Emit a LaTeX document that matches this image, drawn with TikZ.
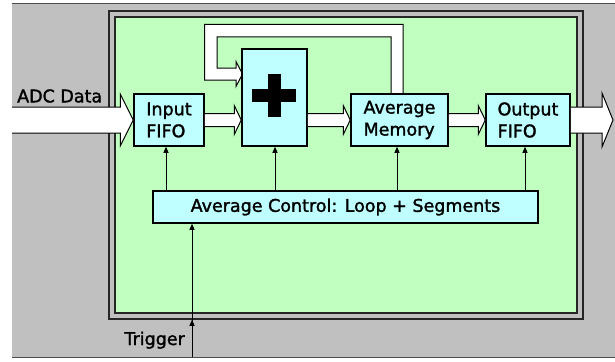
\documentclass[tikz,border=0pt]{standalone}
\usepackage{fontspec}
\setmainfont{DejaVu Sans}[BoldFont=DejaVu Sans, BoldFeatures={FakeBold=1.6}]
\usetikzlibrary{arrows.meta,calc}

\definecolor{bggray}{RGB}{192,192,192}
\definecolor{fpgagreen}{RGB}{192,255,192}
\definecolor{boxcyan}{RGB}{192,255,255}

\tikzset{
  block/.style={draw=black, line width=1.5pt, fill=boxcyan, inner sep=0pt, align=left,
    font=\fontsize{17.5}{22}\selectfont\bfseries},
  fatarrow/.style={draw=black, line width=1pt, fill=white, line join=miter},
  ctrlarrow/.style={line width=1pt, -{Triangle[length=6pt,width=5pt]}},
  lbl/.style={inner sep=0pt, font=\fontsize{17.5}{22}\selectfont\bfseries}
}

% horizontal block arrow: from, to, body half height, head half height, head length
\newcommand{\blockarrow}[5]{%
  \draw[fatarrow] let \p1=(#1), \p2=(#2) in
    (\x1,\y1+#3pt) -- (\x2-#5pt,\y1+#3pt) -- (\x2-#5pt,\y1+#4pt) -- (\x2,\y1)
    -- (\x2-#5pt,\y1-#4pt) -- (\x2-#5pt,\y1-#3pt) -- (\x1,\y1-#3pt);}

\begin{document}
\begin{tikzpicture}[x=1pt, y=-1pt]

\useasboundingbox (0,0) rectangle (615,361);

% background
\fill[bggray] (12,4) rectangle (615,357);
\draw[line width=1pt, black!70] (12,4) -- (615,4);
\draw[line width=1pt, black!70] (12,357) -- (615,357);

% fpga frame
\node[draw=black!85, line width=1.5pt, fill=bggray, minimum width=474pt, minimum height=308pt] (frame) at (346,165) {};
\node[draw=black!85, line width=1.5pt, fill=fpgagreen, minimum width=462pt, minimum height=296pt] (core) at (346,165) {};

% feedback loop
\draw[fatarrow] (391,94) -- (391,37) -- (217,37) -- (217,68) -- (236,68) -- (236,61.5) -- (242.5,74)
  -- (236,86.5) -- (236,80) -- (204.5,80) -- (204.5,24.5) -- (403,24.5) -- (403,94);

% blocks
\node[block, minimum width=70pt, minimum height=52pt] (infifo) at (169,120) {Input\\FIFO};
\node[block, minimum width=65pt, minimum height=97pt] (plus) at (274.5,97.5) {};
\node[block, minimum width=97pt, minimum height=52pt] (avgmem) at (399.5,120) {Average\\Memory};
\node[block, minimum width=84pt, minimum height=52pt] (outfifo) at (528,120) {Output\\FIFO};
\node[block, minimum width=385pt, minimum height=32pt] (ctrl) at (345.5,207) {Average Control: Loop + Segments};

% adder sign
\draw[line width=13pt] (252,95.5) -- (296,95.5);
\draw[line width=13pt] (274,74) -- (274,117);

% data path
\coordinate (adcin) at (12,120);
\coordinate (dataout) at (613,120);
\blockarrow{adcin}{infifo.west}{13}{26}{13}
\blockarrow{infifo.east}{plus.west}{6.5}{14.5}{7}
\blockarrow{plus.east |- avgmem.west}{avgmem.west}{6.5}{14.5}{7}
\blockarrow{avgmem.east}{outfifo.west}{6.5}{14.5}{7}
\blockarrow{outfifo.east}{dataout}{13}{27}{11}
\node[lbl, anchor=west] (adclbl) at (17,96) {ADC Data};

% control lines
\foreach \n/\dx in {infifo/-3, plus/0.5, avgmem/-2.5, outfifo/-3}{
  \path ([xshift=\dx pt]\n.south) coordinate (tap);
  \draw[ctrlarrow] (tap |- ctrl.north) -- (tap);
}

% trigger
\coordinate (trig) at (192,357);
\draw[ctrlarrow] (trig) -- (trig |- ctrl.south);
\draw[ctrlarrow] (trig) -- (trig |- frame.south);
\node[lbl, anchor=base east] (triglbl) at (185,345) {Trigger};

\end{tikzpicture}
\end{document}
